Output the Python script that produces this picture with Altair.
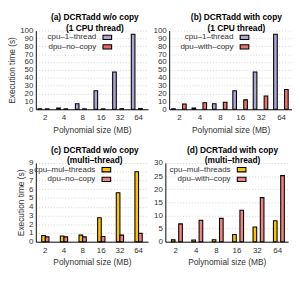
import altair as alt
import pandas as pd

sizes = ["2", "4", "8", "16", "32", "64"]
cpu_1_thread = [0.8, 1.5, 7.0, 23.5, 47.5, 95.5]
cpu_mul_threads = [0.7, 0.65, 0.75, 2.75, 5.6, 8.0]
dpu_no_copy = [0.55, 0.55, 0.55, 0.6, 0.75, 0.95]
dpu_with_copy = [6.8, 8.2, 8.9, 12.0, 16.8, 25.2]

FONT = "Liberation Sans"


def frame(cpu_name, cpu_vals, dpu_name, dpu_vals):
    rows = []
    for s, v in zip(sizes, cpu_vals):
        rows.append({"size": s, "series": cpu_name, "value": v})
    for s, v in zip(sizes, dpu_vals):
        rows.append({"size": s, "series": dpu_name, "value": v})
    return pd.DataFrame(rows)


def panel(df, names, colors, title, ymax, ystep, width, ytitle, dx, legend_x):
    y_ticks = list(range(0, ymax + 1, ystep))
    return (
        alt.Chart(df)
        .mark_bar(stroke="black", strokeWidth=1.1)
        .encode(
            x=alt.X(
                "size:N",
                sort=sizes,
                scale=alt.Scale(paddingInner=0.22, paddingOuter=0.12),
                axis=alt.Axis(
                    title="Polynomial size (MB)",
                    labelAngle=0,
                    ticks=False,
                    labelPadding=4,
                    titlePadding=5,
                    bandPosition=0.5,
                ),
            ),
            xOffset=alt.XOffset("series:N", sort=names),
            y=alt.Y(
                "value:Q",
                scale=alt.Scale(domain=[0, ymax], nice=False),
                axis=alt.Axis(
                    title=ytitle,
                    values=y_ticks,
                    ticks=False,
                    labelOverlap=False,
                    labelPadding=3,
                    titlePadding=3,
                ),
            ),
            color=alt.Color(
                "series:N",
                sort=names,
                scale=alt.Scale(domain=names, range=colors),
                legend=alt.Legend(
                    title=None,
                    orient="none",
                    legendX=legend_x,
                    legendY=2,
                    symbolType="M3,-0.5625H5.25V0.5625H3Z",
                    symbolSize=64,
                    symbolStrokeColor="black",
                    symbolStrokeWidth=1.1,
                    symbolOpacity=1,
                    labelAlign="right",
                    labelOffset=0,
                    labelFontSize=8.3,
                    labelFont=FONT,
                    labelColor="#333",
                    rowPadding=0,
                    padding=0,
                ),
            ),
        )
        .properties(
            width=width,
            height=82,
            title=alt.TitleParams(
                text=title,
                fontSize=8.7,
                font=FONT,
                fontWeight="bold",
                lineHeight=11,
                offset=-7,
                anchor="middle",
                dx=dx,
            ),
        )
    )


pa = panel(
    frame("cpu\u20131\u2013thread", cpu_1_thread, "dpu\u2013no\u2013copy", dpu_no_copy),
    ["cpu\u20131\u2013thread", "dpu\u2013no\u2013copy"],
    ["#aaa5d4", "#ea6961"],
    ["(a) DCRTadd w/o copy", "(1 CPU thread)"],
    100, 10, 117, "Execution time (s)", 3, 53,
)
pb = panel(
    frame("cpu\u20131\u2013thread", cpu_1_thread, "dpu\u2013with\u2013copy", dpu_with_copy),
    ["cpu\u20131\u2013thread", "dpu\u2013with\u2013copy"],
    ["#aaa5d4", "#ec716a"],
    ["(b) DCRTadd with copy", "(1 CPU thread)"],
    100, 10, 128, None, 6, 57,
)
pc = panel(
    frame("cpu\u2013mul\u2013threads", cpu_mul_threads, "dpu\u2013no\u2013copy", dpu_no_copy),
    ["cpu\u2013mul\u2013threads", "dpu\u2013no\u2013copy"],
    ["#fbc300", "#ee8381"],
    ["(c) DCRTadd w/o copy", "(multi\u2013thread)"],
    9, 1, 117, "Execution time (s)", 3, 52,
)
pd_ = panel(
    frame("cpu\u2013mul\u2013threads", cpu_mul_threads, "dpu\u2013with\u2013copy", dpu_with_copy),
    ["cpu\u2013mul\u2013threads", "dpu\u2013with\u2013copy"],
    ["#fbc300", "#ee8381"],
    ["(d) DCRTadd with copy", "(multi\u2013thread)"],
    30, 5, 128, None, 6, 58,
)

top = alt.hconcat(pa, pb, spacing=5).resolve_scale(color="independent", y="independent")
bottom = alt.hconcat(pc, pd_, spacing=5).resolve_scale(color="independent", y="independent")

chart = (
    alt.vconcat(top, bottom, spacing=12)
    .resolve_scale(color="independent", y="independent")
    .properties(padding={"left": 0, "top": 0, "right": 0, "bottom": 0})
    .configure_view(stroke=None)
    .configure_axis(
        labelFont=FONT,
        titleFont=FONT,
        labelFontSize=8.3,
        titleFontSize=8.7,
        labelColor="#333",
        titleColor="#333",
        titleFontWeight="normal",
        domainColor="black",
        domainWidth=1,
        gridColor="#c8c8c8",
        gridDash=[1, 2],
        gridWidth=0.8,
    )
)

chart.save("out.html", embed_options={"renderer": "svg", "actions": False})
